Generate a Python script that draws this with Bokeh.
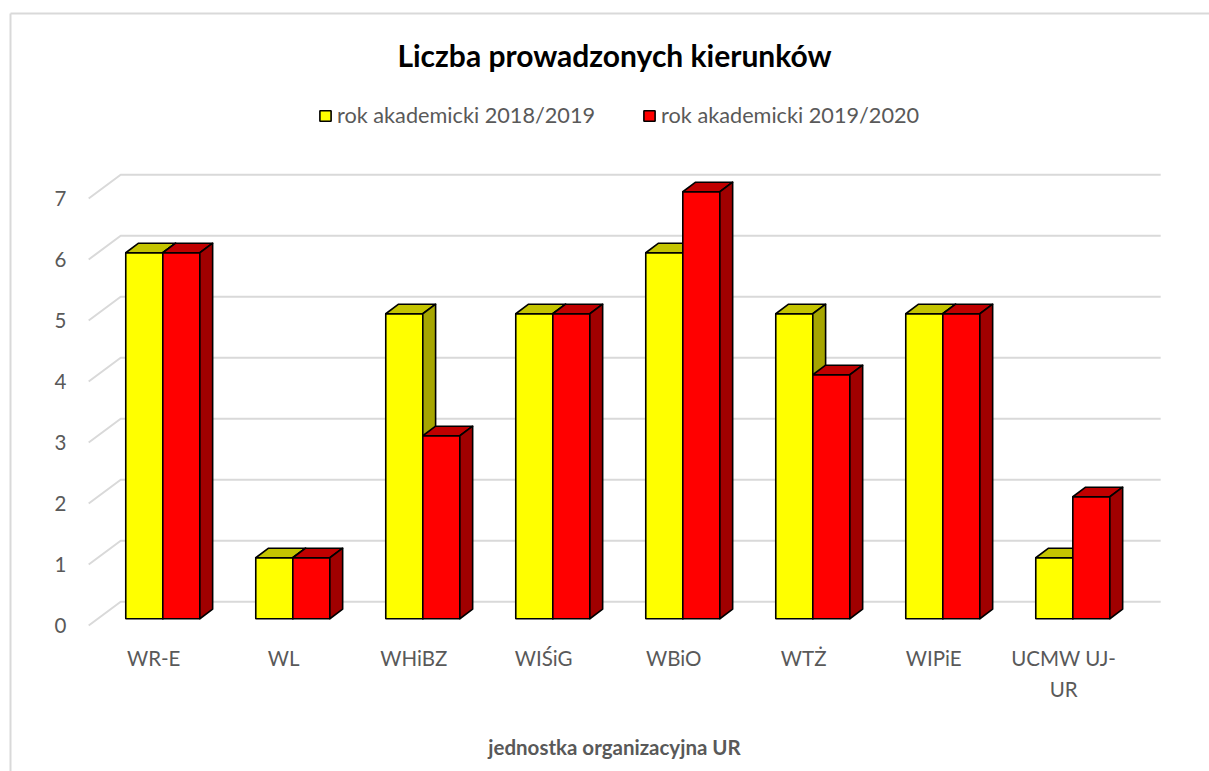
from bokeh.plotting import figure
from bokeh.models import (Range1d, FixedTicker, Legend, LegendItem, Label)
from bokeh.embed import file_html
from bokeh.resources import INLINE
from bokeh.core.properties import value

# ---------------- data ----------------
categories = ["WR-E", "WL", "WHiBZ", "WIŚiG", "WBiO", "WTŻ", "WIPiE", "UCMW UJ-UR"]
tick_labels = ["WR-E", "WL", "WHiBZ", "WIŚiG", "WBiO", "WTŻ", "WIPiE", "UCMW UJ-\nUR"]
series_names = ["rok akademicki 2018/2019", "rok akademicki 2019/2020"]
values_2018 = [6, 1, 5, 5, 6, 5, 5, 1]
values_2019 = [6, 1, 3, 5, 7, 4, 5, 2]
y_ticks = [0, 1, 2, 3, 4, 5, 6, 7]
title_text = "Liczba prowadzonych kierunków"
x_title = "jednostka organizacyjna UR"

# ---------------- style / projection ----------------
FONT = "Lato"
GREY = "#595959"
DX, DY = 0.246, 0.39          # oblique offset of full floor depth (data units)
ZF, ZB = 0.285, 0.685          # bar front / back depth
W = 0.285                      # bar width (category units)
front_cols = ["#FFFF00", "#FF0000"]
top_cols = ["#C4C400", "#C00000"]
side_cols = ["#A6A600", "#A00000"]

W_PX, H_PX = 1209, 771
p = figure(width=W_PX, height=H_PX, output_backend="svg", toolbar_location=None,
           x_range=Range1d(-1.1015, 8.1215), y_range=Range1d(-2.393, 10.033),
           x_axis_location="above",
           min_border_left=10, min_border_right=0, min_border_top=13,
           min_border_bottom=0)
p.outline_line_color = None
p.grid.visible = False
p.background_fill_color = "white"
p.border_fill_color = "white"

# axes only used as the chart-area border (top + left)
for ax in (p.xaxis[0], p.yaxis[0]):
    ax.ticker = FixedTicker(ticks=[])
    ax.axis_line_color = "#D9D9D9"
    ax.axis_line_width = 2
    ax.major_tick_line_color = None
    ax.minor_tick_line_color = None


def proj(x, v, z):
    return x + z * DX, v + z * DY


n_cat = len(categories)

# gridlines (floor side + back wall)
gx, gy = [], []
for t in y_ticks:
    a = proj(-0.5, t, 0)
    b = proj(-0.5, t, 1)
    c = proj(n_cat - 0.5, t, 1)
    gx.append([a[0], b[0], c[0]])
    gy.append([a[1], b[1], c[1]])
p.multi_line(xs=gx, ys=gy, line_color="#D9D9D9", line_width=2)

# value tick labels at the front edge of the floor
p.text(x=[-0.671] * len(y_ticks), y=y_ticks, text=[str(t) for t in y_ticks],
       text_align="right", text_baseline="middle", text_font=value(FONT),
       text_font_size="20.5px", text_color=GREY)

# category labels below the floor
p.text(x=list(range(n_cat)), y=[-0.33] * n_cat, text=tick_labels,
       text_align="center", text_baseline="top", text_font=value(FONT),
       text_font_size="20.5px", text_color=GREY, text_line_height=1.32)

front_renderers = []
for s, vals in enumerate([values_2018, values_2019]):
    fl, fr, fb, ft = [], [], [], []
    txs, tys, sxs, sys_ = [], [], [], []
    for i, v in enumerate(vals):
        x0 = i - W if s == 0 else i
        x1 = x0 + W
        l, b = proj(x0, 0, ZF)
        r, t = proj(x1, v, ZF)
        fl.append(l); fr.append(r); fb.append(b); ft.append(t)
        pts = [proj(x0, v, ZF), proj(x1, v, ZF), proj(x1, v, ZB), proj(x0, v, ZB)]
        txs.append([q[0] for q in pts]); tys.append([q[1] for q in pts])
        pts = [proj(x1, 0, ZF), proj(x1, v, ZF), proj(x1, v, ZB), proj(x1, 0, ZB)]
        sxs.append([q[0] for q in pts]); sys_.append([q[1] for q in pts])
    fr_r = p.quad(left=fl, right=fr, bottom=fb, top=ft, fill_color=front_cols[s],
                  line_color="black", line_width=1.6)
    p.patches(xs=txs, ys=tys, fill_color=top_cols[s], line_color="black",
              line_width=1.6, line_join="round")
    p.patches(xs=sxs, ys=sys_, fill_color=side_cols[s], line_color="black",
              line_width=1.6, line_join="round")
    front_renderers.append(fr_r)

# legend
legend = Legend(items=[LegendItem(label=series_names[k], renderers=[front_renderers[k]])
                       for k in range(2)],
                orientation="horizontal", location=(308, 643),
                glyph_width=14, glyph_height=13, label_standoff=5, spacing=47,
                padding=0, margin=0, border_line_color=None,
                background_fill_alpha=0, label_text_font=FONT,
                label_text_font_size="21.7px", label_text_color=GREY)
p.add_layout(legend)

# title and axis title
p.add_layout(Label(x=604, y=717, x_units="screen", y_units="screen", text=title_text,
                   text_align="center", text_baseline="middle", text_font=FONT,
                   text_font_style="bold", text_font_size="30px", text_color="black"))
p.add_layout(Label(x=604, y=25, x_units="screen", y_units="screen", text=x_title,
                   text_align="center", text_baseline="middle", text_font=FONT,
                   text_font_style="bold", text_font_size="20.5px", text_color=GREY))

open("out.html", "w").write(file_html(p, INLINE))
